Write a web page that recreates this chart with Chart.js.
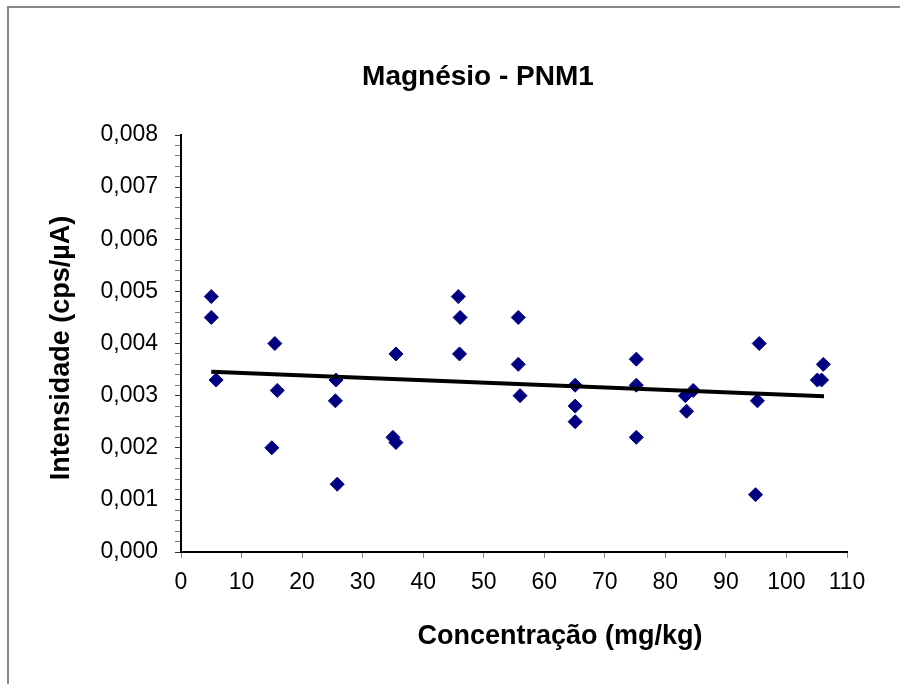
<!DOCTYPE html>
<html>
<head>
<meta charset="utf-8">
<script src="https://cdn.jsdelivr.net/npm/chart.js@4"></script>
<style>
    body { margin: 0; background: #fff; overflow: hidden; }
    #wrap { position: relative; width: 900px; height: 684px; }
    #frame { position: absolute; left: 7px; top: 6px; width: 1000px; height: 1000px;
             border-left: 2px solid #888; border-top: 2px solid #888; }
    #chart { position: absolute; left: 0; top: 0; }
</style>
</head>
<body>
<div id="wrap">
    <div id="frame"></div>
    <canvas id="chart" width="900" height="684"></canvas>
</div>
<script>
// Concentração (mg/kg) x Intensidade (cps/µA)
const concX = [5, 5, 5.8, 15.5, 15.9, 15, 25.6, 25.5, 25.8, 35.5, 35, 35.5,
    45.8, 46.1, 46, 55.7, 55.7, 56, 65.1, 65.1, 65.1, 75.2, 75.2, 75.2,
    83.3, 84.6, 83.5, 95.5, 95.2, 94.9, 105.1, 105.8, 106.1];
const intensY = [0.0049, 0.0045, 0.0033, 0.0040, 0.0031, 0.0020, 0.0033, 0.0029, 0.0013,
    0.0038, 0.0022, 0.0021, 0.0049, 0.0045, 0.0038, 0.0045, 0.0036, 0.0030,
    0.0032, 0.0028, 0.0025, 0.0037, 0.0032, 0.0022, 0.0030, 0.0031, 0.0027,
    0.0040, 0.0029, 0.0011, 0.0033, 0.0033, 0.0036];

// linear trend line end points
const trendX = [5, 106.2];
const trendY = [0.00346, 0.00299];

const chartTitle = 'Magnésio - PNM1';
const xTitle = 'Concentração (mg/kg)';
const yTitle = 'Intensidade (cps/µA)';

const FONT = '"Liberation Sans", Arial, sans-serif';

function toPoints(xs, ys) {
    return xs.map((x, i) => ({ x: x, y: ys[i] }));
}

function isMajor(value) {
    const v = value * 1000;
    return Math.abs(v - Math.round(v)) < 1e-6;
}

// Excel places the captions off-centre, so draw them ourselves
const captions = {
    id: 'captions',
    afterDraw(chart) {
        const c = chart.ctx;
        c.save();
        c.fillStyle = '#000';
        c.textAlign = 'center';
        c.textBaseline = 'middle';
        c.font = 'bold 28px ' + FONT;
        c.fillText(chartTitle, 478, 77);
        c.font = 'bold 27px ' + FONT;
        c.fillText(xTitle, 560, 637);
        c.translate(62, 348);
        c.rotate(-Math.PI / 2);
        c.fillText(yTitle, 0, 0);
        c.restore();
    }
};

document.addEventListener('DOMContentLoaded', function() {
    const ctx = document.getElementById('chart').getContext('2d');

    new Chart(ctx, {
        type: 'scatter',
        data: {
            datasets: [{
                label: 'Tendência',
                data: toPoints(trendX, trendY),
                showLine: true,
                borderColor: '#000',
                borderWidth: 4,
                pointRadius: 0,
                fill: false
            }, {
                label: 'Magnésio',
                data: toPoints(concX, intensY),
                pointStyle: 'rectRot',
                pointRadius: 7,
                backgroundColor: '#000080',
                borderColor: '#000080',
                borderWidth: 1
            }]
        },
        plugins: [captions],
        options: {
            responsive: false,
            animation: false,
            layout: { padding: { left: 0, right: 53, top: 135, bottom: 0 } },
            plugins: {
                legend: { display: false },
                tooltip: { enabled: false },
                title: { display: false }
            },
            scales: {
                x: {
                    type: 'linear',
                    min: 0,
                    max: 110,
                    afterFit: scale => { scale.height = 132; },
                    border: { display: true, color: '#000', width: 2 },
                    grid: { drawOnChartArea: false, tickLength: 6, tickColor: '#888' },
                    ticks: {
                        stepSize: 10,
                        color: '#000',
                        padding: 11,
                        maxRotation: 0,
                        autoSkip: false,
                        font: { family: FONT, size: 23 }
                    }
                },
                y: {
                    type: 'linear',
                    min: 0,
                    max: 0.008,
                    afterFit: scale => { scale.width = 181; },
                    border: { display: true, color: '#000', width: 2 },
                    grid: {
                        drawOnChartArea: false,
                        tickLength: 6,
                        tickColor: c => isMajor(c.tick.value) ? '#333' : '#777'
                    },
                    ticks: {
                        stepSize: 0.0002,
                        maxTicksLimit: 60,
                        autoSkip: false,
                        color: '#000',
                        padding: 17,
                        font: { family: FONT, size: 23 },
                        callback: value => isMajor(value) ? value.toFixed(3).replace('.', ',') : ''
                    }
                }
            }
        }
    });
});
</script>
</body>
</html>
